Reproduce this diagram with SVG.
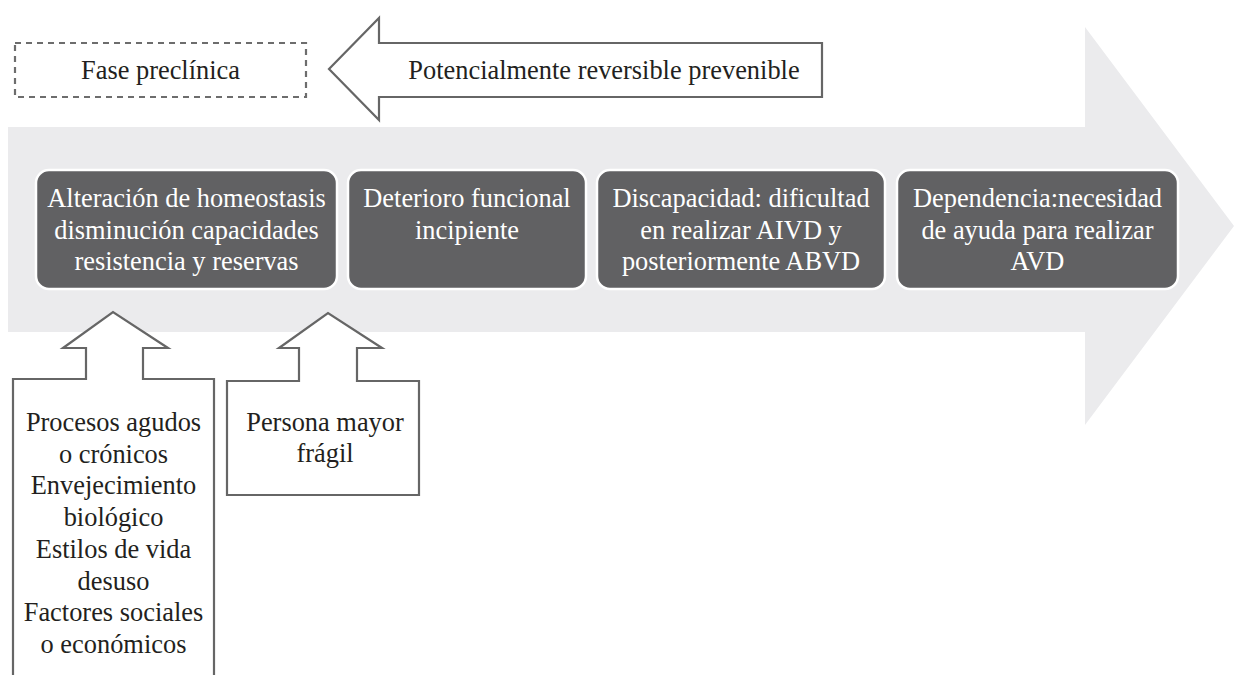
<svg xmlns="http://www.w3.org/2000/svg" width="1234" height="675" viewBox="0 0 1234 675">
  <style>
    text { font-family: "Liberation Serif", "DejaVu Serif", serif; font-size: 26.4px; text-anchor: middle; }
    .dark { fill: #231f20; }
    .light { fill: #ffffff; }
    .stage { fill: #616163; stroke: #ffffff; stroke-width: 2.5; }
    .outline { fill: #ffffff; stroke: #666666; stroke-width: 2.2; stroke-linejoin: miter; }
    .dashed { fill: none; stroke: #6d6d6d; stroke-width: 2.2; stroke-dasharray: 6 5; }
  </style>

  <!-- background progression arrow -->
  <g id="timeline-arrow">
    <polygon points="8,127 1085,127 1085,27 1234,226 1085,425 1085,332 8,332" fill="#ebebed"/>
  </g>

  <!-- top labels -->
  <g id="fase-preclinica">
    <rect class="dashed" x="15" y="43" width="291" height="54"/>
    <text class="dark" x="160.5" y="79">Fase preclínica</text>
  </g>
  <g id="reversible-arrow">
    <polygon class="outline" points="329,69 379,18 379,43 822,43 822,97 379,97 379,120"/>
    <text class="dark" x="604" y="79" font-family="DejaVu Serif">Potencialmente reversible prevenible</text>
  </g>

  <!-- stages -->
  <g id="stage-homeostasis">
    <rect class="stage" x="36" y="170" width="301" height="119" rx="13"/>
    <text class="light" x="186.5" y="207">Alteración de homeostasis</text>
    <text class="light" x="186.5" y="239">disminución capacidades</text>
    <text class="light" x="186.5" y="270">resistencia y reservas</text>
  </g>
  <g id="stage-deterioro">
    <rect class="stage" x="348" y="170" width="238" height="119" rx="13"/>
    <text class="light" x="467" y="207">Deterioro funcional</text>
    <text class="light" x="467" y="239">incipiente</text>
  </g>
  <g id="stage-discapacidad">
    <rect class="stage" x="597" y="170" width="288" height="119" rx="13"/>
    <text class="light" x="741" y="207">Discapacidad: dificultad</text>
    <text class="light" x="741" y="239">en realizar AIVD y</text>
    <text class="light" x="741" y="270">posteriormente ABVD</text>
  </g>
  <g id="stage-dependencia">
    <rect class="stage" x="897" y="170" width="281" height="119" rx="13"/>
    <text class="light" x="1037.5" y="207">Dependencia:necesidad</text>
    <text class="light" x="1037.5" y="239">de ayuda para realizar</text>
    <text class="light" x="1037.5" y="270">AVD</text>
  </g>

  <!-- contributing factors -->
  <g id="factores">
    <polygon class="outline" points="13,690 13,379 86,379 86,348 63,348 113,312 168,348 143,348 143,379 214,379 214,690"/>
    <text class="dark" x="113.5" y="431">Procesos agudos</text>
    <text class="dark" x="113.5" y="463">o crónicos</text>
    <text class="dark" x="113.5" y="494">Envejecimiento</text>
    <text class="dark" x="113.5" y="526">biológico</text>
    <text class="dark" x="113.5" y="558">Estilos de vida</text>
    <text class="dark" x="113.5" y="590">desuso</text>
    <text class="dark" x="113.5" y="621">Factores sociales</text>
    <text class="dark" x="113.5" y="653">o económicos</text>
  </g>
  <g id="persona-fragil">
    <polygon class="outline" points="227,381 299,381 299,348 279,348 328,313 382,348 357,348 357,381 419,381 419,495 227,495"/>
    <text class="dark" x="325" y="431">Persona mayor</text>
    <text class="dark" x="325" y="462">frágil</text>
  </g>
</svg>
